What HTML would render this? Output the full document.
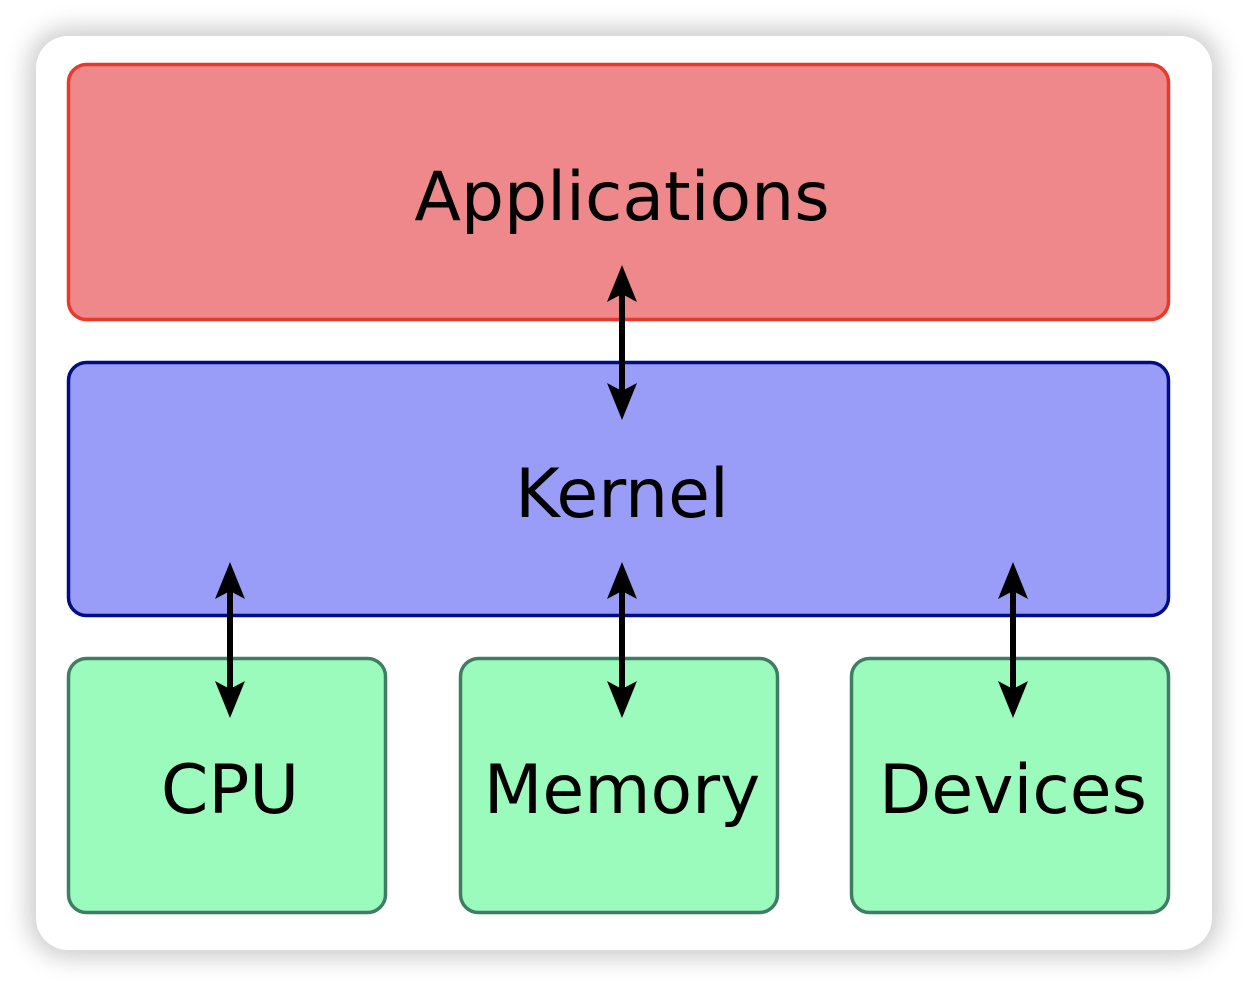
<!DOCTYPE html>
<html><head><style>
html,body{margin:0;padding:0;background:#fff;}
.card{position:absolute;left:36px;top:36px;width:1176px;height:914px;border-radius:32px;background:#fff;box-shadow:0 0 24px 8px rgba(0,0,0,0.2);}
svg{position:absolute;left:0;top:0;}
text{font-family:"DejaVu Sans","Liberation Sans",sans-serif;font-size:68px;fill:#000;text-anchor:middle;}
</style></head><body>
<div class="card"></div>
<svg width="1248" height="986" viewBox="0 0 1248 986">
<defs>
<path id="ah" d="M0,0 L-15,37 L0,29 L15,37 Z" fill="#000"/>
</defs>
<rect x="68.5" y="64.5" width="1100" height="255" rx="18" fill="#ef888b" stroke="#e83a2c" stroke-width="3.5"/>
<rect x="68.5" y="362.5" width="1100" height="253" rx="18" fill="#999df7" stroke="#000c88" stroke-width="3.5"/>
<rect x="68.5" y="658.5" width="317" height="254" rx="18" fill="#9afbbc" stroke="#3f7d65" stroke-width="3.5"/>
<rect x="460.5" y="658.5" width="317" height="254" rx="18" fill="#9afbbc" stroke="#3f7d65" stroke-width="3.5"/>
<rect x="851.5" y="658.5" width="317" height="254" rx="18" fill="#9afbbc" stroke="#3f7d65" stroke-width="3.5"/>
<text x="622" y="220">Applications</text>
<text x="622" y="517">Kernel</text>
<text x="230" y="813">CPU</text>
<text x="622" y="813">Memory</text>
<text x="1013" y="813">Devices</text>
<g stroke="#000" stroke-width="6">
<line x1="622" y1="285" x2="622" y2="400"/>
<line x1="230" y1="582" x2="230" y2="698"/>
<line x1="622" y1="582" x2="622" y2="698"/>
<line x1="1013" y1="582" x2="1013" y2="698"/>
</g>
<use href="#ah" transform="translate(622,265)"/>
<use href="#ah" transform="translate(622,420) rotate(180)"/>
<use href="#ah" transform="translate(230,562)"/>
<use href="#ah" transform="translate(230,718) rotate(180)"/>
<use href="#ah" transform="translate(622,562)"/>
<use href="#ah" transform="translate(622,718) rotate(180)"/>
<use href="#ah" transform="translate(1013,562)"/>
<use href="#ah" transform="translate(1013,718) rotate(180)"/>
</svg>
</body></html>
